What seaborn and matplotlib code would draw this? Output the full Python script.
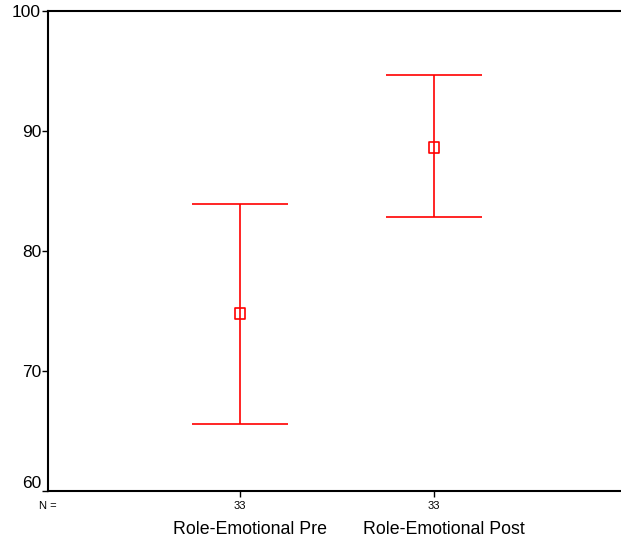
import seaborn as sns
import matplotlib.pyplot as plt
import matplotlib.transforms as mtransforms
import pandas as pd

# values
groups = ['Role-Emotional Pre', 'Role-Emotional Post']
n_counts = [33, 33]
means = [74.8, 88.6]
upper = [83.9, 94.7]
lower = [65.6, 82.8]
y_ticks = [60, 70, 80, 90, 100]

df = pd.DataFrame({'group': groups, 'n': n_counts, 'mean': means,
                   'upper': upper, 'lower': lower})
df['pos'] = range(1, len(df) + 1)

sns.set_style('white')
plt.rcParams['font.family'] = ['Liberation Sans', 'DejaVu Sans']
plt.rcParams['text.color'] = 'black'
plt.rcParams['xtick.color'] = 'black'
plt.rcParams['ytick.color'] = 'black'

fig = plt.figure(figsize=(6.21, 5.45), dpi=100)
ax = fig.add_axes([48 / 621, 54 / 545, 573 / 621, 480 / 545])

# error bars
yerr = [df['mean'] - df['lower'], df['upper'] - df['mean']]
ax.errorbar(df['pos'], df['mean'], yerr=yerr, fmt='none', ecolor='red',
            elinewidth=1.2, capsize=34.5, capthick=1.2)
sns.scatterplot(x='pos', y='mean', data=df, ax=ax, marker='s', s=60,
                facecolor='none', edgecolor='red', linewidth=1.2, zorder=3)

ax.set_xlim(0.01, 2.964)
ax.set_ylim(60, 100)
ax.set_yticks(y_ticks)
ax.set_yticklabels([str(v) for v in y_ticks], fontsize=12.5)
ax.get_yticklabels()[0].set_verticalalignment('bottom')
ax.set_xticks(df['pos'])
ax.set_xticklabels([str(v) for v in df['n']], fontsize=8)
ax.tick_params(axis='y', direction='out', length=4, width=1, pad=1, left=True)
ax.tick_params(axis='x', direction='out', length=4, width=1, pad=3, bottom=True)
ax.set_xlabel('')
ax.set_ylabel('')

for side in ['left', 'top', 'bottom']:
    ax.spines[side].set_color('black')
    ax.spines[side].set_linewidth(1.5)
ax.spines['right'].set_visible(False)

ax.text(0, 1 - 506 / 545, 'N =', transform=mtransforms.blended_transform_factory(ax.transAxes, fig.transFigure),
        ha='center', va='center', fontsize=8)
trans = mtransforms.blended_transform_factory(ax.transData, fig.transFigure)
shift = trans + mtransforms.ScaledTranslation(10 / 100, 0, fig.dpi_scale_trans)
for p, g in zip(df['pos'], df['group']):
    ax.text(p, 1 - 530 / 545, g, transform=shift, ha='center', va='center', fontsize=12.8)

fig.savefig('out.png', dpi=100)
